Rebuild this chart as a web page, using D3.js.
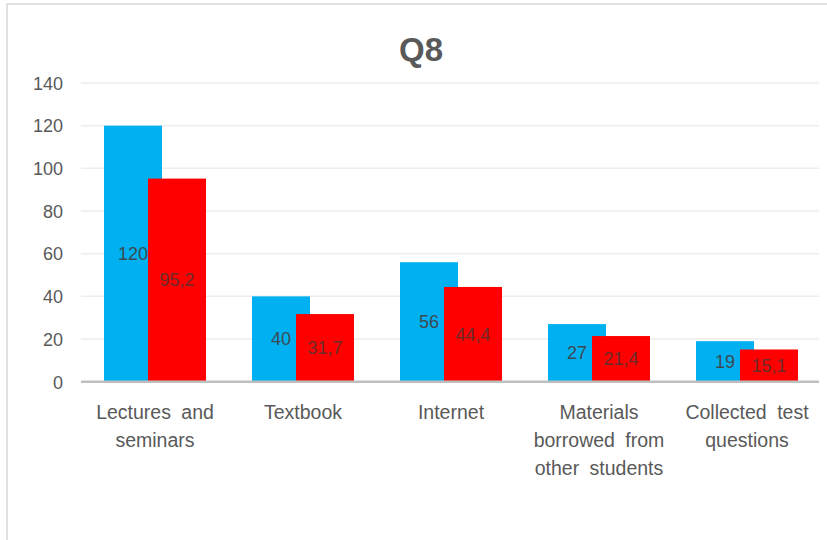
<!DOCTYPE html>
<html>
<head>
<meta charset="utf-8">
<script src="https://cdn.jsdelivr.net/npm/d3@7"></script>
<style>
  html, body { margin: 0; padding: 0; background: #ffffff; }
  svg { display: block; }
</style>
</head>
<body>
<svg id="chart" width="827" height="540"></svg>
<script>
const title = "Q8";
const categories = [
  ["Lectures and", "seminars"],
  ["Textbook"],
  ["Internet"],
  ["Materials", "borrowed from", "other students"],
  ["Collected test", "questions"]
];
const seriesNames = ["A", "B"];
const seriesA = [120, 40, 56, 27, 19];
const seriesB = [95.2, 31.7, 44.4, 21.4, 15.1];
const yTicks = [0, 20, 40, 60, 80, 100, 120, 140];

const colors = { A: "#00B0F0", B: "#FF0000" };
const labelColors = { A: "#3d4a52", B: "#6b2b2b" };

const svg = d3.select("#chart");
const W = 827, H = 540;
const margin = { left: 81, right: 6, top: 83, bottom: 158 };
const plotTop = 83, plotBottom = 381.7;

// Chart frame
svg.append("rect").attr("x", 7).attr("y", 4).attr("width", 840).attr("height", 560)
  .attr("fill", "#ffffff").attr("stroke", "#d9d9d9").attr("stroke-width", 1.6);

const catKeys = categories.map(c => c.join(" "));
const x0 = d3.scaleBand().domain(catKeys).range([81, 821]).padding(0);
const x1 = d3.scalePoint().domain(seriesNames).range([-22, 22]);
const barW = 58;
const y = d3.scaleLinear().domain([0, 140]).range([plotBottom, plotTop]);

// Gridlines
svg.append("g").selectAll("line").data(yTicks.filter(t => t > 0)).join("line")
  .attr("x1", 81).attr("x2", 819)
  .attr("y1", d => y(d)).attr("y2", d => y(d))
  .attr("stroke", "#ededed").attr("stroke-width", 1.5);

// Y axis labels via d3 axis
const yAxis = d3.axisLeft(y).tickValues(yTicks).tickSize(0).tickPadding(0);
const gy = svg.append("g").attr("transform", "translate(63,0)").call(yAxis);
gy.select(".domain").remove();
gy.selectAll("text")
  .attr("font-family", "'Liberation Sans', Arial, sans-serif")
  .attr("font-size", 18).attr("fill", "#595959").attr("dy", "0.35em");

// Data rows
const rows = catKeys.map((k, i) => ({ key: k, A: seriesA[i], B: seriesB[i] }));
const flat = [];
rows.forEach(r => seriesNames.forEach(s => flat.push({ key: r.key, s, v: r[s] })));

const fmt = v => d3.format(v % 1 === 0 ? "d" : ".1f")(v).replace(".", ",");

// Bars
svg.append("g").selectAll("rect").data(flat).join("rect")
  .attr("x", d => x0(d.key) + x0.bandwidth() / 2 + x1(d.s) - barW / 2)
  .attr("y", d => y(d.v))
  .attr("width", barW)
  .attr("height", d => y(0) - y(d.v))
  .attr("fill", d => colors[d.s]);

// Axis baseline
svg.append("line").attr("x1", 81).attr("x2", 819)
  .attr("y1", y(0)).attr("y2", y(0))
  .attr("stroke", "#bfbfbf").attr("stroke-width", 2.6);

// Value labels
svg.append("g").selectAll("text").data(flat).join("text")
  .attr("x", d => x0(d.key) + x0.bandwidth() / 2 + x1(d.s))
  .attr("y", d => (y(d.v) + y(0)) / 2)
  .attr("dy", "0.35em")
  .attr("text-anchor", "middle")
  .attr("font-family", "'Liberation Sans', Arial, sans-serif")
  .attr("font-size", 18)
  .attr("fill", d => labelColors[d.s])
  .text(d => fmt(d.v));

// Category labels
const gx = svg.append("g");
categories.forEach((lines, i) => {
  const cx = x0(catKeys[i]) + x0.bandwidth() / 2;
  const t = gx.append("text")
    .attr("text-anchor", "middle")
    .attr("font-family", "'Liberation Sans', Arial, sans-serif")
    .attr("font-size", 19.5)
    .attr("word-spacing", 5)
    .attr("fill", "#595959");
  lines.forEach((ln, j) => {
    t.append("tspan").attr("x", cx).attr("y", 419 + j * 28).text(ln);
  });
});

// Title
svg.append("text").attr("x", 421).attr("y", 60.5)
  .attr("text-anchor", "middle")
  .attr("font-family", "'Liberation Sans', Arial, sans-serif")
  .attr("font-weight", "bold").attr("font-size", 33)
  .attr("fill", "#595959").text(title);
</script>
</body>
</html>
